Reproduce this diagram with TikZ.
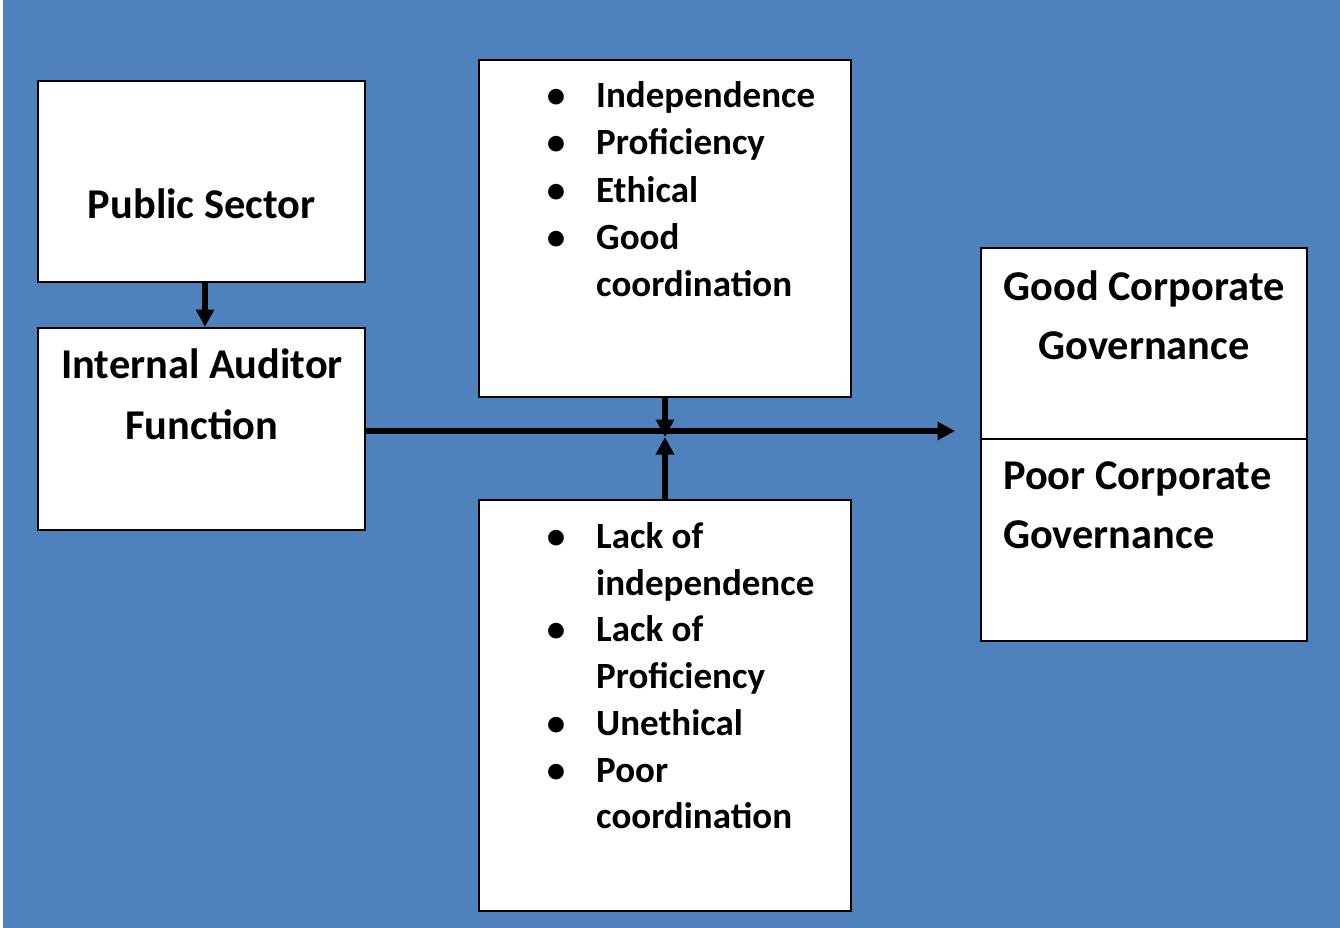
\documentclass[tikz,border=0pt]{standalone}
\usepackage{fontspec}
\setmainfont{Carlito}
\usetikzlibrary{arrows.meta}
\definecolor{bgblue}{RGB}{79,129,189}
% bullet column: 40pt box for the dot, then a 20pt gap before the item text
\newcommand\listbullet{\makebox[40pt]{\textbullet}\hspace{20pt}}
\begin{document}
\begin{tikzpicture}[x=1pt,y=-1pt,
  box/.style={draw=black, fill=white, line width=2pt, inner sep=0pt},
  big/.style={font=\bfseries\fontsize{42.4pt}{60pt}\selectfont, inner sep=0pt, anchor=base},
  item/.style={font=\bfseries\fontsize{37pt}{47pt}\selectfont, inner sep=0pt, anchor=base west},
  arr/.style={draw=black, line width=5.5pt, -{Triangle[length=17.5pt,width=17.5pt]}}]

% page and blue backdrop
\useasboundingbox (0,0) rectangle (1340,928);
\fill[white] (0,0) rectangle (1340,928);
\fill[bgblue] (3,0) rectangle (1340,928);

% boxes
\node[box, minimum width=327pt, minimum height=201pt] (ps)   at (201.5,181.5) {};
\node[box, minimum width=327pt, minimum height=202pt] (iaf)  at (201.5,429)   {};
\node[box, minimum width=372pt, minimum height=337pt] (top)  at (665,228.5)   {};
\node[box, minimum width=372pt, minimum height=411pt] (bot)  at (665,705.5)   {};
\node[box, minimum width=326pt, minimum height=191pt] (good) at (1144,343.5)  {};
\node[box, minimum width=326pt, minimum height=202pt] (poor) at (1144,540)    {};

% box titles
\node[big] (psT)   at (201.7,218) {Public Sector};
\node[big] (iafT1) at (202,378)   {Internal Auditor};
\node[big] (iafT2) at (202,439)   {Function};
\node[big] (goodT1) at (1144,300) {Good Corporate};
\node[big] (goodT2) at (1144,359) {Governance};
\node[big, anchor=base west] (poorT1) at (1003,489) {Poor Corporate};
\node[big, anchor=base west] (poorT2) at (1003,548) {Governance};

% positive attributes
\node[item] (t1) at (536,108) {\listbullet Independence};
\node[item] (t2) at (536,155) {\listbullet Proficiency};
\node[item] (t3) at (536,202) {\listbullet Ethical};
\node[item] (t4) at (536,249) {\listbullet Good};
\node[item] (t5) at (596,296) {coordination};

% negative attributes
\node[item] (b1) at (536,548)   {\listbullet Lack of};
\node[item] (b2) at (596,595)   {independence};
\node[item] (b3) at (536,641.5) {\listbullet Lack of};
\node[item] (b4) at (596,688)   {Proficiency};
\node[item] (b5) at (536,735)   {\listbullet Unethical};
\node[item] (b6) at (536,782)   {\listbullet Poor};
\node[item] (b7) at (596,828)   {coordination};

% connectors
\coordinate (out)  at (955,431);
\coordinate (meet) at (665,437);
\draw[arr] ([xshift=3.5pt]ps.south) -- ([xshift=3.5pt]iaf.north);
\draw[arr] (iaf.east |- out) -- (out);
\draw[arr] (top.south -| meet) -- (meet);
\draw[arr] (bot.north -| meet) -- (meet);
\end{tikzpicture}
\end{document}
